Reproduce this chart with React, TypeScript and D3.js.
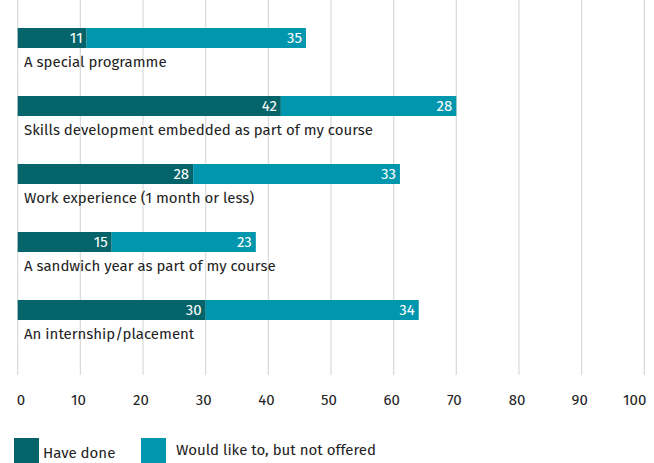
import React from "react";
import * as d3 from "d3";

const categories = [
  "A special programme",
  "Skills development embedded as part of my course",
  "Work experience (1 month or less)",
  "A sandwich year as part of my course",
  "An internship/placement",
];
const haveDone = [11, 42, 28, 15, 30];
const wouldLike = [35, 28, 33, 23, 34];
const ticks = [0, 10, 20, 30, 40, 50, 60, 70, 80, 90, 100];
const seriesNames = ["Have done", "Would like to, but not offered"];
const colors = ["#04646a", "#0096ae"];

export default function App() {
  const W = 654, H = 463;
  const x = d3.scaleLinear().domain([0, 100]).range([17.7, 644.3]);
  const y = d3.scaleBand().domain(categories).range([28, 368]).paddingInner(0).paddingOuter(0);
  const barH = 20;
  const font = "'Fira Sans', 'Open Sans', 'Noto Sans', sans-serif";
  const fs = 15;
  return (
    <svg width={W} height={H} style={{ position: "absolute", left: 0, top: 0 }} fontFamily={font}>
      {ticks.map((t) => (
        <line key={t} x1={x(t)} x2={x(t)} y1={0} y2={375} stroke="#d9d9d9" strokeWidth={1.2} />
      ))}
      {categories.map((c, i) => {
        const y0 = y(c)!;
        const a = haveDone[i], b = wouldLike[i];
        return (
          <g key={c}>
            <rect x={x(0)} y={y0} width={x(a) - x(0)} height={barH} fill={colors[0]} />
            <rect x={x(a)} y={y0} width={x(a + b) - x(a)} height={barH} fill={colors[1]} />
            <text x={x(a) - 4} y={y0 + 15} textAnchor="end" fill="#fff" fontSize={fs}>{a}</text>
            <text x={x(a + b) - 4} y={y0 + 15} textAnchor="end" fill="#fff" fontSize={fs}>{b}</text>
            <text x={24} y={y0 + 39} fill="#222" fontSize={fs}>{c}</text>
          </g>
        );
      })}
      {ticks.map((t) => (
        <text
          key={t}
          x={t === 0 ? x(t) - 1 : t === 100 ? x(t) + 2 : x(t) - 2}
          y={405}
          textAnchor={t === 0 ? "start" : t === 100 ? "end" : "middle"}
          fill="#222"
          fontSize={fs}
        >
          {t}
        </text>
      ))}
      <rect x={14} y={438} width={25} height={25} fill={colors[0]} />
      <text x={43} y={458} fill="#222" fontSize={fs}>{seriesNames[0]}</text>
      <rect x={141} y={438} width={25} height={25} fill={colors[1]} />
      <text x={176} y={455} fill="#222" fontSize={fs}>{seriesNames[1]}</text>
    </svg>
  );
}
